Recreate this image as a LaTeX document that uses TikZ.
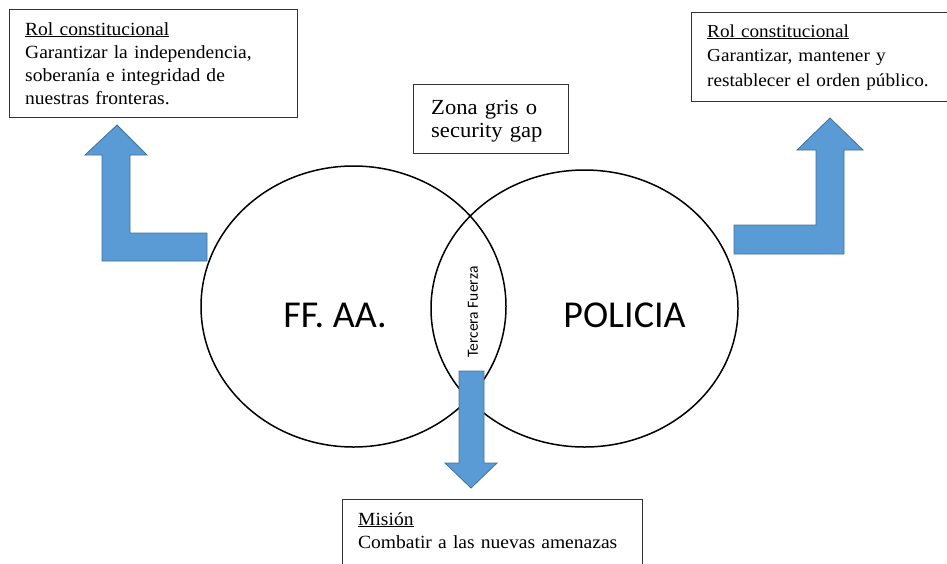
\documentclass[tikz,border=0pt]{standalone}
\usepackage{fontspec}
\setmainfont{Liberation Serif}[FakeStretch=1.05]
\newfontfamily\calibrifont{Carlito}
\usetikzlibrary{positioning}

\definecolor{arrowfill}{HTML}{5B9BD5}
\definecolor{arrowline}{HTML}{41719C}

\begin{document}
\begin{tikzpicture}[x=1pt,y=-1pt,
    info box/.style={draw=black!80,line width=0.9pt},
    info text/.style={anchor=base west,align=left,inner sep=0pt,text width=#1,
      font=\fontsize{18.6}{23}\selectfont},
    info text/.default=280pt,
    block arrow/.style={fill=arrowfill,draw=arrowline,line width=0.8pt,line join=miter},
    set/.style={draw,line width=1.5pt},
    set label/.style={inner sep=0pt,font=\calibrifont\fontsize{38}{40}\selectfont}]

  \useasboundingbox (0,0) rectangle (947,563);

  % arrows to the two roles
  \draw[block arrow] (117,125) -- (147,155) -- (130,155) -- (130,233) -- (207,233)
    -- (207,261) -- (102,261) -- (102,155) -- (85,155) -- cycle;
  \draw[block arrow] (830,118) -- (863,150) -- (844,150) -- (844,254) -- (734,254)
    -- (734,225) -- (816,225) -- (816,150) -- (797,150) -- cycle;

  % the two sets
  \coordinate (ffaa) at (353.5,306.5);
  \coordinate (policia) at (584.5,308.5);
  \draw[set] (ffaa) ellipse [x radius=152.5pt, y radius=140.5pt];
  \draw[set] (policia) ellipse [x radius=153.5pt, y radius=138.5pt];

  \node[set label] (ffaalabel) at (335,315.5) {FF. AA.};
  \node[set label] (policialabel) at (624.5,315.5) {POLICIA};
  \node[inner sep=0pt,rotate=90,font=\calibrifont\fontsize{15.5}{16}\selectfont]
    (tercera) at (473,312) {Tercera Fuerza};

  % arrow to the mission
  \draw[block arrow] (459,371) -- (484,371) -- (484,463) -- (497,463) -- (471,488)
    -- (445,463) -- (459,463) -- cycle;

  % boxes
  \draw[info box] (9,9) rectangle (297,117);
  \node[info text] (rolffaa) at (25,35)
    {\underline{Rol constitucional}\\Garantizar la independencia,\\soberanía e integridad de\\nuestras fronteras.};

  \draw[info box] (691,12) rectangle (960,101);
  \node[info text, font=\fontsize{18.3}{24.5}\selectfont] (rolpolicia) at (707,37)
    {\underline{Rol constitucional}\\Garantizar, mantener y\\restablecer el orden público.};

  \draw[info box] (413,84) rectangle (568,153);
  \node[info text=150pt, font=\fontsize{21.5}{23}\selectfont] (zonagris) at (431,114)
    {Zona gris o\\security gap};

  \draw[info box] (342,499) rectangle (642,600);
  \node[info text] (mision) at (358,525)
    {\underline{Misión}\\Combatir a las nuevas amenazas};

\end{tikzpicture}
\end{document}
